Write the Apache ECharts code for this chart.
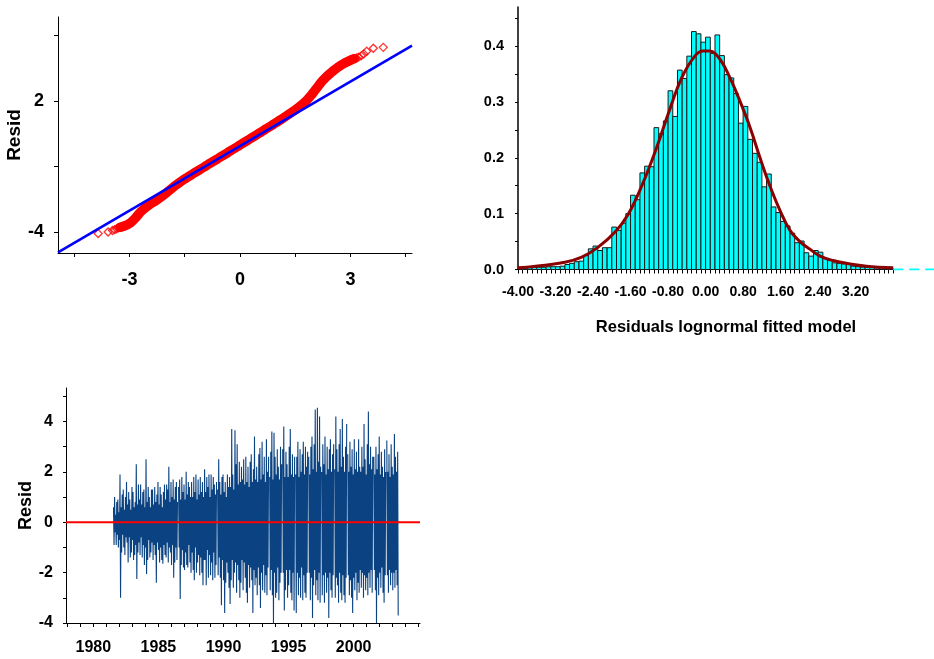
<!DOCTYPE html>
<html><head><meta charset="utf-8">
<script src="https://cdn.jsdelivr.net/npm/echarts@6/dist/echarts.min.js"></script>
<style>html,body{margin:0;padding:0;background:#fff}#c{width:934px;height:659px}</style>
</head><body><div id="c"></div>
<script>
// ---------- QQ plot (top-left) ----------
const qqX = [-3.85,-3.58,-3.46,-3.40,-3.35,-3.30,-3.25,-3.20,-3.15,-3.10,-3.05,-3.00,-2.95,-2.90,-2.85,-2.80,-2.75,-2.70,-2.65,-2.60,
  -2.55,-2.50,-2.45,-2.40,-2.35,-2.30,-2.25,-2.20,-2.15,-2.10,-2.05,-2.00,-1.95,-1.90,-1.85,-1.80,-1.75,-1.70,-1.65,-1.60,
  -1.53,-1.46,-1.39,-1.32,-1.25,-1.18,-1.11,-1.04,-0.97,-0.90,-0.83,-0.76,-0.69,-0.62,-0.55,-0.48,-0.41,-0.34,-0.27,-0.20,
  -0.13,-0.06,0.01,0.08,0.15,0.22,0.29,0.36,0.43,0.50,0.57,0.64,0.71,0.78,0.85,0.92,0.99,1.06,1.13,1.20,
  1.27,1.34,1.41,1.48,1.55,1.62,1.68,1.74,1.80,1.85,1.90,1.95,2.00,2.05,2.10,2.15,2.20,2.25,2.30,2.35,
  2.40,2.45,2.50,2.55,2.60,2.65,2.70,2.75,2.80,2.85,2.90,2.95,3.00,3.05,3.10,3.16,3.22,3.29,3.36,3.44,3.62,3.89];
const qqY = [-4.07,-4.00,-3.93,-3.89,-3.85,-3.81,-3.78,-3.76,-3.73,-3.70,-3.66,-3.61,-3.55,-3.47,-3.38,-3.28,-3.18,-3.08,-3.00,-2.93,
  -2.86,-2.80,-2.74,-2.68,-2.63,-2.58,-2.52,-2.46,-2.40,-2.34,-2.28,-2.21,-2.14,-2.07,-2.00,-1.93,-1.86,-1.80,-1.74,-1.68,
  -1.60,-1.53,-1.45,-1.38,-1.30,-1.23,-1.16,-1.09,-1.02,-0.94,-0.87,-0.80,-0.73,-0.66,-0.58,-0.51,-0.44,-0.37,-0.29,-0.22,
  -0.15,-0.08,0.00,0.07,0.14,0.21,0.29,0.36,0.43,0.51,0.58,0.65,0.73,0.80,0.87,0.95,1.02,1.10,1.17,1.25,
  1.33,1.41,1.49,1.57,1.66,1.75,1.83,1.92,2.01,2.10,2.20,2.30,2.41,2.52,2.63,2.74,2.85,2.95,3.04,3.12,
  3.20,3.27,3.34,3.41,3.48,3.54,3.60,3.65,3.70,3.75,3.79,3.83,3.87,3.91,3.94,3.97,4.01,4.07,4.16,4.28,4.42,4.46];
const qqDenseFrom = -3.25, qqDenseTo = 3.10;   // where the points merge into a solid band
const qqLineX = [-4.94, 4.67];
const qqLineY = [-4.93, 4.54];
const qqXTicks = [-4.5,-3,-1.5,0,1.5,3,4.5];
const qqXLabels = [-3,0,3];
const qqYTicks = [-4,-1,2,5];
const qqYLabels = [-4,2];

// ---------- Histogram (top-right) ----------
const histStart = -4.0, histWidth = 0.1;
const histValues = [0.002,0.003,0.005,0.004,0.004,0.004,0.005,0.005,0.005,0.006,
  0.009,0.011,0.014,0.015,0.025,0.037,0.042,0.034,0.039,0.039,
  0.076,0.070,0.083,0.100,0.133,0.125,0.173,0.185,0.184,0.254,
  0.243,0.266,0.320,0.274,0.357,0.342,0.382,0.426,0.422,0.407,
  0.416,0.387,0.420,0.383,0.349,0.343,0.315,0.262,0.292,0.233,
  0.208,0.192,0.148,0.171,0.112,0.102,0.086,0.078,0.065,0.048,
  0.051,0.030,0.024,0.034,0.031,0.020,0.016,0.012,0.011,0.010,
  0.009,0.006,0.005,0.0045,0.004,0.0035,0.003,0.003,0.0025,0.002];
const fitX = [-4.0,-3.81,-3.0,-2.64,-2.29,-1.93,-1.65,-1.36,-1.08,-0.80,-0.51,-0.23,-0.05,0.09,0.31,0.52,0.73,0.95,1.16,1.37,1.59,1.80,2.01,2.23,2.44,2.72,3.08,3.43,4.0];
const fitY = [0.003,0.004,0.013,0.022,0.040,0.067,0.099,0.150,0.210,0.278,0.343,0.382,0.391,0.391,0.376,0.343,0.302,0.254,0.200,0.150,0.105,0.070,0.050,0.036,0.024,0.016,0.010,0.006,0.003];
const tailX = [4.0, 4.87];
const histXLabels = [-4.0,-3.2,-2.4,-1.6,-0.8,0.0,0.8,1.6,2.4,3.2];
const histYLabels = [0,0.1,0.2,0.3,0.4];

// ---------- Residual time series (bottom-left) ----------
const tsStart = 1981.55, tsStep = 1/24;
const tsResid = [
  0.6,-0.9, 1.0,-0.4, 0.3,-0.9, 0.8,-0.5, 0.9,-1.0, 0.4,-0.7, 1.9,-3.0, 0.6,-1.2, 1.1,-0.5, 1.3,-1.0, 0.5,-1.3, 1.0,-0.6,
  1.6,-0.8, 0.7,-1.6, 1.2,-0.6, 0.9,-1.4, 0.5,-1.2, 1.4,-0.7, 1.2,-1.5, 0.6,-1.3, 0.8,-0.9, 2.3,-2.25,0.7,-1.2, 1.5,-0.8,
  0.9,-1.3, 1.5,-0.6, 0.7,-1.4, 1.2,-0.9, 1.3,-1.7, 0.6,-1.0, 2.5,-2.05,0.8,-1.5, 1.4,-0.7, 1.0,-1.4, 0.6,-1.2, 1.3,-0.8,
  1.3,-1.5, 0.7,-0.9, 1.4,-1.3, 0.8,-2.4, 1.1,-0.8, 1.6,-1.1, 0.7,-1.6, 1.4,-1.0, 1.1,-1.5, 0.6,-1.65,1.2,-0.9, 1.5,-1.3,
  0.9,-1.4, 1.5,-0.8, 1.3,-1.6, 2.2,-1.0, 0.8,-1.2, 1.6,-1.7, 1.0,-0.9, 1.7,-2.2, 0.9,-1.6, 1.4,-1.0, 1.6,-1.5, 0.8, null,
  1.4,-1.0, 1.7,-3.05,0.9,-1.7, 1.8,-1.1, 1.2,-1.8, 1.5,-1.9, 0.9,-1.2, 2.0,-1.7, 1.1,-1.8, 1.6,-0.9, 1.4,-1.6, 1.0,-2.0,
  1.6,-1.2, 1.0,-1.9, 1.8,-2.3, 1.2,-1.0, 1.9,-2.0, 0.9,-1.6, 1.7,-1.3, 1.1,-2.1, 1.8,-1.4, 1.2,-2.0, 1.6,-2.5, 1.0,-1.5,
  2.1,-1.5, 1.2,-2.5, 1.8,-1.1, 1.4,-2.2, 1.9,-1.3, 1.0,-2.1, 1.9,-1.6, 1.3,-2.3, 1.8,-1.2, 1.5,-2.2, 1.1,-1.7, 1.6, null,
  1.3,-2.1, 2.5,-1.4, 1.6,-2.2, 1.1,-3.3, 1.8,-1.5, 1.9,-2.3, 1.2,-3.6, 1.6,-2.4, 1.0,-1.6, 1.9,-2.0, 1.4,-2.6, 1.8,-3.25,
  1.4,-2.3, 3.7,-1.5, 1.9,-2.6, 1.3,-2.0, 3.65,-1.6,2.3,-2.8, 3.1,-1.7, 1.5,-2.3, 2.4,-3.0, 1.6,-2.4, 2.2,-1.5, 1.7,-2.7,
  2.5,-1.6, 1.5,-2.2, 2.6,-2.8, 1.6,-3.2, 2.2,-1.7, 1.4,-2.6, 2.4,-1.8, 2.7,-2.3, 1.6,-3.6, 2.1,-1.9, 3.4,-2.5, 1.7,-2.2,
  2.2,-2.9, 1.6,-1.8, 2.7,-2.5, 2.95,-3.4,1.7,-2.0, 3.2,-2.7, 1.9,-1.7, 2.6,-2.8, 1.6,-2.1, 3.3,-2.9, 2.0,-1.8, 2.6, null,
  1.8,-2.7, 2.8,-1.9, 3.6,-2.9, 1.7,-4.1, 3.55,-2.0,2.6,-3.0, 1.9,-2.8, 2.9,-1.8, 2.2,-3.1, 1.7,-2.4, 3.0,-2.0, 2.3, null,
  2.9,-2.0, 3.8,-3.5, 1.8,-2.7, 2.8,-1.9, 2.3,-3.0, 1.8,-2.5, 3.0,-1.9, 3.7,-2.8, 1.9,-3.1, 2.7,-2.0, 1.8,-3.5, 2.6, null,
  1.9,-3.6, 2.6,-2.0, 3.2,-2.9, 1.8,-2.2, 2.9,-3.0, 2.0,-1.8, 2.7,-3.1, 3.2,-2.1, 1.9,-2.8, 3.0,-3.0, 2.2,-2.0, 2.8, null,
  2.6,-2.0, 1.9,-3.1, 3.0,-2.2, 3.4,-3.8, 2.1,-2.5, 3.1,-1.9, 4.48,-2.9,2.0,-2.3, 4.55,-3.1,2.4,-2.0, 4.2,-3.2, 2.2, null,
  2.0,-2.9, 3.1,-2.1, 2.3,-3.2, 3.4,-2.0, 1.9,-2.8, 3.0,-2.2, 2.1,-3.8, 2.9,-2.0, 3.3,-2.7, 2.0,-3.0, 2.7,-2.1, 3.1, null,
  2.1,-3.0, 4.2,-2.2, 2.9,-2.5, 2.0,-3.2, 3.1,-2.0, 3.7,-2.8, 2.2,-3.1, 4.1,-2.1, 2.6,-2.9, 2.0,-3.2, 3.0,-2.2, 3.9, null,
  2.7,-2.1, 2.0,-2.9, 3.2,-2.3, 2.2,-3.0, 2.9,-3.6, 1.9,-2.2, 3.3,-2.7, 2.1,-2.0, 2.8,-3.1, 2.0,-2.4, 3.3,-2.8, 2.2,-1.9,
  2.0,-2.6, 3.0,-2.0, 2.2,-3.0, 3.9,-2.1, 2.5,-2.7, 1.9,-2.2, 3.1,-2.9, 4.4,-2.0, 2.3,-2.6, 3.0,-1.9, 2.1,-2.8, 2.6, null,
  2.6,-1.9, 1.9,-2.7, 3.0,-4.0, 2.1,-2.2, 2.7,-2.9, 3.4,-2.0, 1.9,-2.6, 2.8,-1.8, 2.2,-2.8, 1.8,-3.2, 2.9,-2.1, 2.0, null,
  3.25,-2.1,2.0,-2.8, 2.7,-1.9, 1.8,-2.5, 3.1,-2.0, 2.2,-2.7, 1.9,-2.0, 3.5,-2.6, 2.6,-1.9, 2.0,-2.5, 2.8,-3.7
];
const tsXRange = [1977.9, 2005.1];
const tsXLabels = [1980,1985,1990,1995,2000];
const tsYLabels = [-4,-2,0,2,4];

// ---------- build ----------
const FONT = 'Liberation Sans';
function range(a, b, step) { const out = []; const n = Math.round((b - a) / step); for (let i = 0; i <= n; i++) out.push(Math.round((a + i * step) * 1000) / 1000); return out; }
const lbl = (size, margin, vals, fmt) => ({ customValues: vals, fontSize: size, fontWeight: 'bold', fontFamily: FONT, color: '#000', margin: margin, formatter: fmt || (v => String(v)) });
const blackLine = (w) => ({ show: true, onZero: false, lineStyle: { color: '#000', width: w } });
const tick = (vals, len) => ({ show: true, customValues: vals, length: len, lineStyle: { color: '#000', width: 1 } });

const qqPts = qqX.map((x, i) => [x, qqY[i]]);
const qqBand = qqPts.filter(p => p[0] >= qqDenseFrom && p[0] <= qqDenseTo);

const chart = echarts.init(document.getElementById('c'), null, { renderer: 'canvas' });
chart.setOption({
  animation: false,
  backgroundColor: '#fff',
  grid: [
    { left: 58, top: 17, width: 354, height: 236 },
    { left: 518, top: 7, width: 416, height: 262.5 },
    { left: 66, top: 388, width: 354, height: 235 }
  ],
  xAxis: [
    { gridIndex: 0, type: 'value', min: -4.94, max: 4.67, axisLine: blackLine(1), axisTick: tick(qqXTicks, 4),
      axisLabel: lbl(18, 18, qqXLabels), splitLine: { show: false } },
    { gridIndex: 1, type: 'value', min: -4, max: 4.87, axisLine: { show: false, onZero: false }, axisTick: tick(range(-4, 4, 0.1), 4),
      axisLabel: lbl(14, 16, histXLabels, v => Number(v).toFixed(2)), splitLine: { show: false },
      name: 'Residuals lognormal fitted model', nameLocation: 'middle', nameGap: 49,
      nameTextStyle: { fontSize: 16.5, fontWeight: 'bold', fontFamily: FONT, color: '#000' } },
    { gridIndex: 2, type: 'value', min: tsXRange[0], max: tsXRange[1], axisLine: blackLine(1), axisTick: tick(range(1978, 2005, 1), 4),
      axisLabel: lbl(16, 17, tsXLabels), splitLine: { show: false } }
  ],
  yAxis: [
    { gridIndex: 0, type: 'value', min: -4.96, max: 5.85, axisLine: blackLine(1), axisTick: tick(qqYTicks, 4),
      axisLabel: lbl(18, 14, qqYLabels), splitLine: { show: false },
      name: 'Resid', nameLocation: 'middle', nameGap: 30, nameRotate: 90,
      nameTextStyle: { fontSize: 19, fontWeight: 'bold', fontFamily: FONT, color: '#000' } },
    { gridIndex: 1, type: 'value', min: 0, max: 0.47, axisLine: blackLine(1.5), axisTick: tick(range(0, 0.45, 0.05), 3),
      axisLabel: lbl(14.5, 14, histYLabels, v => Number(v).toFixed(1)), splitLine: { show: false } },
    { gridIndex: 2, type: 'value', min: -4, max: 5.33, axisLine: blackLine(1), axisTick: tick(range(-4, 5, 1), 3),
      axisLabel: lbl(16, 13, tsYLabels), splitLine: { show: false },
      name: 'Resid', nameLocation: 'middle', nameGap: 28, nameRotate: 90,
      nameTextStyle: { fontSize: 18, fontWeight: 'bold', fontFamily: FONT, color: '#000' } }
  ],
  series: [
    { type: 'line', xAxisIndex: 0, yAxisIndex: 0, silent: true, z: 1, symbol: 'none',
      data: qqBand, lineStyle: { color: '#ff0000', width: 9.5, cap: 'round', join: 'round' } },
    { type: 'scatter', xAxisIndex: 0, yAxisIndex: 0, silent: true, z: 2,
      data: qqPts, symbol: 'diamond', symbolSize: 8,
      itemStyle: { color: 'rgba(255,255,255,0)', borderColor: '#ff0000', borderWidth: 1.3 } },
    { type: 'line', xAxisIndex: 0, yAxisIndex: 0, silent: true, z: 3, symbol: 'none',
      data: qqLineX.map((x, i) => [x, qqLineY[i]]), lineStyle: { color: '#0000ff', width: 2.6 } },
    { type: 'custom', xAxisIndex: 1, yAxisIndex: 1, silent: true, z: 2,
      data: histValues.map((v, i) => [histStart + i * histWidth, histStart + (i + 1) * histWidth, v]),
      encode: { x: [0, 1], y: 2 },
      renderItem: function (params, api) {
        const p0 = api.coord([api.value(0), api.value(2)]);
        const p1 = api.coord([api.value(1), 0]);
        return { type: 'rect', shape: { x: p0[0], y: p0[1], width: p1[0] - p0[0], height: p1[1] - p0[1] },
          style: { fill: '#00ffff', stroke: '#1a1a1a', lineWidth: 1 } };
      } },
    { type: 'line', xAxisIndex: 1, yAxisIndex: 1, silent: true, z: 3, symbol: 'none',
      data: tailX.map(x => [x, 0]), lineStyle: { color: '#00ffff', width: 2, type: [10, 6] } },
    { type: 'line', xAxisIndex: 1, yAxisIndex: 1, silent: true, z: 4, symbol: 'none', smooth: 0.4,
      data: fitX.map((x, i) => [x, fitY[i]]), lineStyle: { color: '#8b0000', width: 3 } },
    { type: 'line', xAxisIndex: 2, yAxisIndex: 2, silent: true, z: 2, symbol: 'none', connectNulls: false,
      data: tsResid.map((v, i) => [tsStart + i * tsStep, v === null ? '-' : v]),
      lineStyle: { color: '#0a4282', width: 1.1 } },
    { type: 'line', xAxisIndex: 2, yAxisIndex: 2, silent: true, z: 3, symbol: 'none',
      data: tsXRange.map(x => [x, 0]), lineStyle: { color: '#ff0000', width: 2.2 } }
  ]
});
</script></body></html>
